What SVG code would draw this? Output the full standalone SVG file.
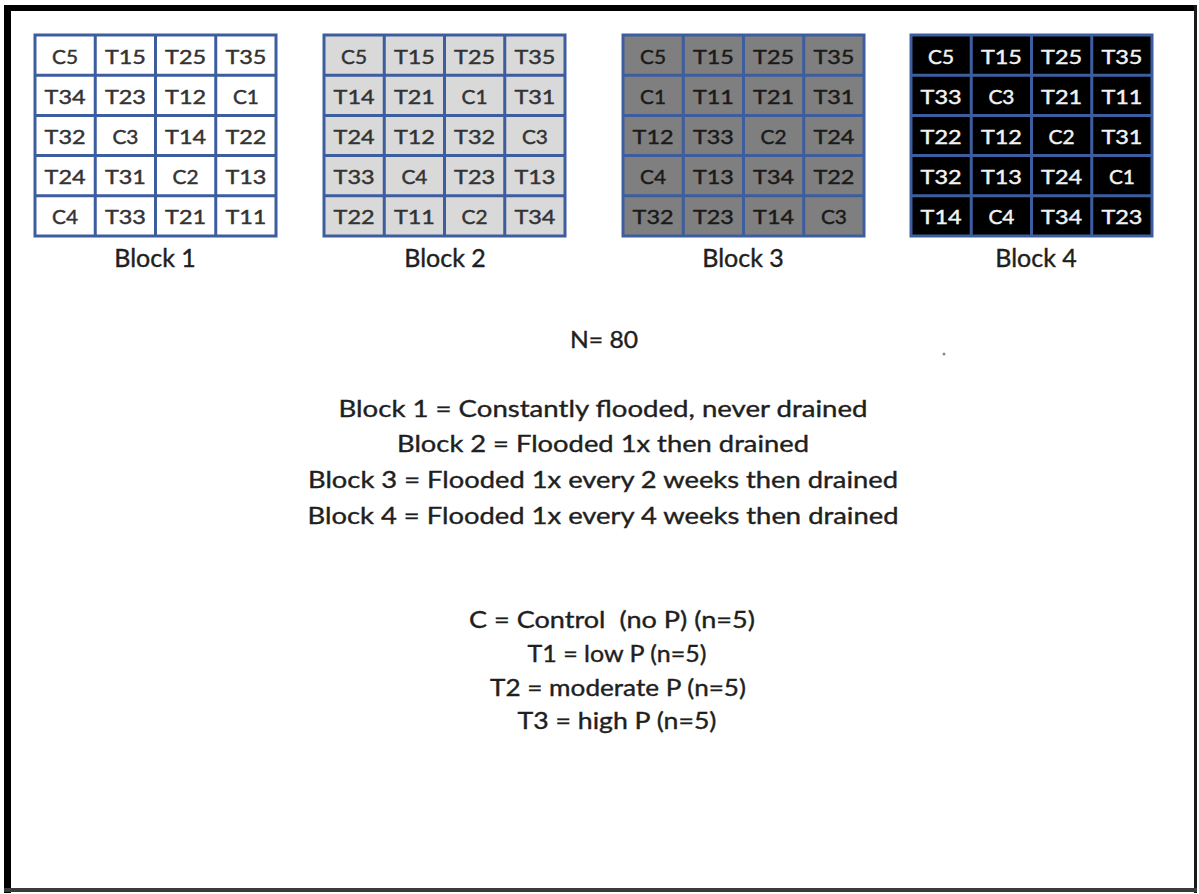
<svg xmlns="http://www.w3.org/2000/svg" width="1199" height="894" viewBox="0 0 1199 894">
<style>
.bg{stroke:none}
.grid{fill:none;stroke:#3D5E9E;stroke-width:3}
.c text{font-family:Lato,"Liberation Sans",sans-serif;font-size:20px;text-anchor:middle;stroke-width:0.45px}
.t1 text{fill:#333333;stroke:#333333}
.t3 text{fill:#1A1A1A;stroke:#1A1A1A}
.t4 text{fill:#F2F2F2;stroke:#F2F2F2}
.lbl{font-family:Lato,"Liberation Sans",sans-serif;font-size:25px;fill:#1F1F1F;stroke:#1F1F1F;stroke-width:0.4px;text-anchor:middle}
.txt{font-family:Lato,"Liberation Sans",sans-serif;font-size:24px;fill:#1F1F1F;stroke:#1F1F1F;stroke-width:0.4px;text-anchor:middle}
</style>
<rect x="0" y="0" width="1199" height="894" fill="#FFFFFF"/>
<g id="frame">
<rect x="4" y="5" width="1193" height="6" fill="#000"/>
<rect x="4" y="5" width="7" height="888" fill="#000"/>
<rect x="1194" y="5" width="3" height="888" fill="#1A1A1A"/>
<rect x="4" y="888" width="1193" height="4" fill="#3A3A3A"/>
</g>

<g id="block1" class="c t1" transform="translate(35,35)">
<rect class="bg" width="241" height="201" fill="#FFFFFF"/>
<path class="grid" d="M0,0H241V201H0Z M60.25,0V201 M120.5,0V201 M180.75,0V201 M0,40.2H241 M0,80.4H241 M0,120.6H241 M0,160.8H241"/>
<text x="30.1" y="28.5" textLength="26" lengthAdjust="spacingAndGlyphs">C5</text><text x="90.4" y="28.5" textLength="41" lengthAdjust="spacingAndGlyphs">T15</text><text x="150.6" y="28.5" textLength="41" lengthAdjust="spacingAndGlyphs">T25</text><text x="210.9" y="28.5" textLength="41" lengthAdjust="spacingAndGlyphs">T35</text>
<text x="30.1" y="68.5" textLength="41" lengthAdjust="spacingAndGlyphs">T34</text><text x="90.4" y="68.5" textLength="41" lengthAdjust="spacingAndGlyphs">T23</text><text x="150.6" y="68.5" textLength="41" lengthAdjust="spacingAndGlyphs">T12</text><text x="210.9" y="68.5" textLength="26" lengthAdjust="spacingAndGlyphs">C1</text>
<text x="30.1" y="108.5" textLength="41" lengthAdjust="spacingAndGlyphs">T32</text><text x="90.4" y="108.5" textLength="26" lengthAdjust="spacingAndGlyphs">C3</text><text x="150.6" y="108.5" textLength="41" lengthAdjust="spacingAndGlyphs">T14</text><text x="210.9" y="108.5" textLength="41" lengthAdjust="spacingAndGlyphs">T22</text>
<text x="30.1" y="148.5" textLength="41" lengthAdjust="spacingAndGlyphs">T24</text><text x="90.4" y="148.5" textLength="41" lengthAdjust="spacingAndGlyphs">T31</text><text x="150.6" y="148.5" textLength="26" lengthAdjust="spacingAndGlyphs">C2</text><text x="210.9" y="148.5" textLength="41" lengthAdjust="spacingAndGlyphs">T13</text>
<text x="30.1" y="188.5" textLength="26" lengthAdjust="spacingAndGlyphs">C4</text><text x="90.4" y="188.5" textLength="41" lengthAdjust="spacingAndGlyphs">T33</text><text x="150.6" y="188.5" textLength="41" lengthAdjust="spacingAndGlyphs">T21</text><text x="210.9" y="188.5" textLength="41" lengthAdjust="spacingAndGlyphs">T11</text>
</g>
<text id="label-block1" class="lbl" x="155" y="267">Block 1</text>

<g id="block2" class="c t1" transform="translate(324,35)">
<rect class="bg" width="241" height="201" fill="#D9D9D9"/>
<path class="grid" d="M0,0H241V201H0Z M60.25,0V201 M120.5,0V201 M180.75,0V201 M0,40.2H241 M0,80.4H241 M0,120.6H241 M0,160.8H241"/>
<text x="30.1" y="28.5" textLength="26" lengthAdjust="spacingAndGlyphs">C5</text><text x="90.4" y="28.5" textLength="41" lengthAdjust="spacingAndGlyphs">T15</text><text x="150.6" y="28.5" textLength="41" lengthAdjust="spacingAndGlyphs">T25</text><text x="210.9" y="28.5" textLength="41" lengthAdjust="spacingAndGlyphs">T35</text>
<text x="30.1" y="68.5" textLength="41" lengthAdjust="spacingAndGlyphs">T14</text><text x="90.4" y="68.5" textLength="41" lengthAdjust="spacingAndGlyphs">T21</text><text x="150.6" y="68.5" textLength="26" lengthAdjust="spacingAndGlyphs">C1</text><text x="210.9" y="68.5" textLength="41" lengthAdjust="spacingAndGlyphs">T31</text>
<text x="30.1" y="108.5" textLength="41" lengthAdjust="spacingAndGlyphs">T24</text><text x="90.4" y="108.5" textLength="41" lengthAdjust="spacingAndGlyphs">T12</text><text x="150.6" y="108.5" textLength="41" lengthAdjust="spacingAndGlyphs">T32</text><text x="210.9" y="108.5" textLength="26" lengthAdjust="spacingAndGlyphs">C3</text>
<text x="30.1" y="148.5" textLength="41" lengthAdjust="spacingAndGlyphs">T33</text><text x="90.4" y="148.5" textLength="26" lengthAdjust="spacingAndGlyphs">C4</text><text x="150.6" y="148.5" textLength="41" lengthAdjust="spacingAndGlyphs">T23</text><text x="210.9" y="148.5" textLength="41" lengthAdjust="spacingAndGlyphs">T13</text>
<text x="30.1" y="188.5" textLength="41" lengthAdjust="spacingAndGlyphs">T22</text><text x="90.4" y="188.5" textLength="41" lengthAdjust="spacingAndGlyphs">T11</text><text x="150.6" y="188.5" textLength="26" lengthAdjust="spacingAndGlyphs">C2</text><text x="210.9" y="188.5" textLength="41" lengthAdjust="spacingAndGlyphs">T34</text>
</g>
<text id="label-block2" class="lbl" x="445" y="267">Block 2</text>

<g id="block3" class="c t3" transform="translate(623,35)">
<rect class="bg" width="241" height="201" fill="#7F7F7F"/>
<path class="grid" d="M0,0H241V201H0Z M60.25,0V201 M120.5,0V201 M180.75,0V201 M0,40.2H241 M0,80.4H241 M0,120.6H241 M0,160.8H241"/>
<text x="30.1" y="28.5" textLength="26" lengthAdjust="spacingAndGlyphs">C5</text><text x="90.4" y="28.5" textLength="41" lengthAdjust="spacingAndGlyphs">T15</text><text x="150.6" y="28.5" textLength="41" lengthAdjust="spacingAndGlyphs">T25</text><text x="210.9" y="28.5" textLength="41" lengthAdjust="spacingAndGlyphs">T35</text>
<text x="30.1" y="68.5" textLength="26" lengthAdjust="spacingAndGlyphs">C1</text><text x="90.4" y="68.5" textLength="41" lengthAdjust="spacingAndGlyphs">T11</text><text x="150.6" y="68.5" textLength="41" lengthAdjust="spacingAndGlyphs">T21</text><text x="210.9" y="68.5" textLength="41" lengthAdjust="spacingAndGlyphs">T31</text>
<text x="30.1" y="108.5" textLength="41" lengthAdjust="spacingAndGlyphs">T12</text><text x="90.4" y="108.5" textLength="41" lengthAdjust="spacingAndGlyphs">T33</text><text x="150.6" y="108.5" textLength="26" lengthAdjust="spacingAndGlyphs">C2</text><text x="210.9" y="108.5" textLength="41" lengthAdjust="spacingAndGlyphs">T24</text>
<text x="30.1" y="148.5" textLength="26" lengthAdjust="spacingAndGlyphs">C4</text><text x="90.4" y="148.5" textLength="41" lengthAdjust="spacingAndGlyphs">T13</text><text x="150.6" y="148.5" textLength="41" lengthAdjust="spacingAndGlyphs">T34</text><text x="210.9" y="148.5" textLength="41" lengthAdjust="spacingAndGlyphs">T22</text>
<text x="30.1" y="188.5" textLength="41" lengthAdjust="spacingAndGlyphs">T32</text><text x="90.4" y="188.5" textLength="41" lengthAdjust="spacingAndGlyphs">T23</text><text x="150.6" y="188.5" textLength="41" lengthAdjust="spacingAndGlyphs">T14</text><text x="210.9" y="188.5" textLength="26" lengthAdjust="spacingAndGlyphs">C3</text>
</g>
<text id="label-block3" class="lbl" x="743" y="267">Block 3</text>

<g id="block4" class="c t4" transform="translate(911,35)">
<rect class="bg" width="241" height="201" fill="#000000"/>
<path class="grid" d="M0,0H241V201H0Z M60.25,0V201 M120.5,0V201 M180.75,0V201 M0,40.2H241 M0,80.4H241 M0,120.6H241 M0,160.8H241"/>
<text x="30.1" y="28.5" textLength="26" lengthAdjust="spacingAndGlyphs">C5</text><text x="90.4" y="28.5" textLength="41" lengthAdjust="spacingAndGlyphs">T15</text><text x="150.6" y="28.5" textLength="41" lengthAdjust="spacingAndGlyphs">T25</text><text x="210.9" y="28.5" textLength="41" lengthAdjust="spacingAndGlyphs">T35</text>
<text x="30.1" y="68.5" textLength="41" lengthAdjust="spacingAndGlyphs">T33</text><text x="90.4" y="68.5" textLength="26" lengthAdjust="spacingAndGlyphs">C3</text><text x="150.6" y="68.5" textLength="41" lengthAdjust="spacingAndGlyphs">T21</text><text x="210.9" y="68.5" textLength="41" lengthAdjust="spacingAndGlyphs">T11</text>
<text x="30.1" y="108.5" textLength="41" lengthAdjust="spacingAndGlyphs">T22</text><text x="90.4" y="108.5" textLength="41" lengthAdjust="spacingAndGlyphs">T12</text><text x="150.6" y="108.5" textLength="26" lengthAdjust="spacingAndGlyphs">C2</text><text x="210.9" y="108.5" textLength="41" lengthAdjust="spacingAndGlyphs">T31</text>
<text x="30.1" y="148.5" textLength="41" lengthAdjust="spacingAndGlyphs">T32</text><text x="90.4" y="148.5" textLength="41" lengthAdjust="spacingAndGlyphs">T13</text><text x="150.6" y="148.5" textLength="41" lengthAdjust="spacingAndGlyphs">T24</text><text x="210.9" y="148.5" textLength="26" lengthAdjust="spacingAndGlyphs">C1</text>
<text x="30.1" y="188.5" textLength="41" lengthAdjust="spacingAndGlyphs">T14</text><text x="90.4" y="188.5" textLength="26" lengthAdjust="spacingAndGlyphs">C4</text><text x="150.6" y="188.5" textLength="41" lengthAdjust="spacingAndGlyphs">T34</text><text x="210.9" y="188.5" textLength="41" lengthAdjust="spacingAndGlyphs">T23</text>
</g>
<text id="label-block4" class="lbl" x="1036" y="267">Block 4</text>

<g id="notes">
<text class="txt" x="604" y="348" textLength="68" lengthAdjust="spacingAndGlyphs">N= 80</text>
<text class="txt" x="603" y="417" textLength="529" lengthAdjust="spacingAndGlyphs">Block 1 = Constantly flooded, never drained</text>
<text class="txt" x="603" y="452" textLength="412" lengthAdjust="spacingAndGlyphs">Block 2 = Flooded 1x then drained</text>
<text class="txt" x="603" y="488" textLength="590" lengthAdjust="spacingAndGlyphs">Block 3 = Flooded 1x every 2 weeks then drained</text>
<text class="txt" x="603" y="524" textLength="591" lengthAdjust="spacingAndGlyphs">Block 4 = Flooded 1x every 4 weeks then drained</text>
</g>
<g id="legend">
<text class="txt" x="612" y="628" textLength="286" lengthAdjust="spacingAndGlyphs">C = Control&#160; (no P) (n=5)</text>
<text class="txt" x="617" y="662" textLength="179" lengthAdjust="spacingAndGlyphs">T1 = low P (n=5)</text>
<text class="txt" x="618" y="696" textLength="256" lengthAdjust="spacingAndGlyphs">T2 = moderate P (n=5)</text>
<text class="txt" x="617" y="729" textLength="199" lengthAdjust="spacingAndGlyphs">T3 = high P (n=5)</text>
</g>
<circle cx="944" cy="354" r="1.5" fill="#8A8A8A"/>
</svg>
